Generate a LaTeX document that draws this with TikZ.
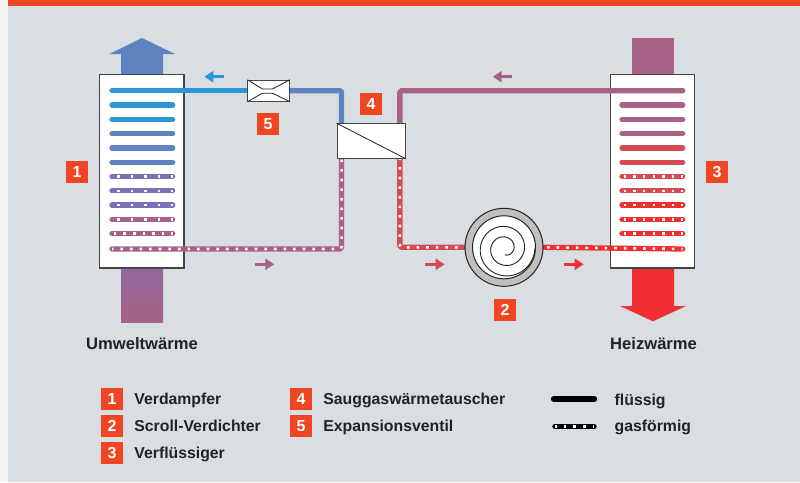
\documentclass[tikz,border=0pt]{standalone}
\usepackage{fontspec}
\setmainfont{Liberation Sans}
\usetikzlibrary{arrows.meta,backgrounds}

\definecolor{bgcol}{HTML}{D9DEE2}
\definecolor{barcol}{HTML}{F04523}
\definecolor{cold}{HTML}{2D96D4}
\definecolor{coolblue}{HTML}{5F82C0}
\definecolor{violet}{HTML}{7A70B5}
\definecolor{mauve}{HTML}{A76285}
\definecolor{dullred}{HTML}{D64A55}
\definecolor{hot}{HTML}{F03030}
\definecolor{txt}{HTML}{222222}
\definecolor{edge}{HTML}{444444}

\tikzset{
  pipe/.style={line width=5.3pt,line cap=round,line join=round,rounded corners=2pt,draw=#1},
  gas/.style 2 args={pipe=#1,postaction={draw=white,line width=2.6pt,line cap=butt,dash pattern=on 2.6pt off {#2pt-2.6pt},dash phase=1.3pt}},
  badge/.style={fill=barcol,text=white,font=\bfseries\fontsize{16}{16}\selectfont,minimum width=22pt,minimum height=22pt,inner sep=0pt},
  label/.style={anchor=base west,text=txt,inner sep=0pt,font=\bfseries\fontsize{15.8}{16}\selectfont},
  title/.style={label,font=\bfseries\fontsize{16.6}{16}\selectfont},
  exchanger/.style={draw=edge,line width=1.2pt,fill=white,inner sep=0pt},
  flowarrow/.style={draw=#1,line width=3.5pt,-{Triangle[length=9pt,width=11pt]}},
}

\begin{document}
\begin{tikzpicture}[x=1pt,y=-1pt]

% parameters
\def\gap{9.6}       % dot spacing on gas lines
\def\rowA{90.7}     % first row of the coils
\def\rowH{14.3}     % distance of the coil rows

\useasboundingbox (0,0) rectangle (800,482);

% expansion valve, suction gas exchanger, scroll
\node[exchanger,line width=1pt,minimum width=41.5pt,minimum height=21pt] (valve) at (268.7,90.7) {};
\draw[txt,line width=.8pt] (valve.north west) -- +(15,9.3) -- +(25,9.3) -- (valve.north east);
\draw[txt,line width=.8pt] (valve.south west) -- +(15,-8.5) -- +(25,-8.5) -- (valve.south east);
\node[exchanger,line width=1pt,minimum width=68.3pt,minimum height=34.6pt] (hx) at (371.2,141) {};
\draw[txt,line width=.8pt] (hx.north west) -- (hx.south east);
\node[circle,draw=txt,line width=1pt,fill=black!25,minimum size=78pt,inner sep=0pt] (scroll) at (504,247.3) {};
\node[circle,draw=txt,line width=1pt,fill=white,minimum size=63pt,inner sep=0pt] (rotor) at (scroll) {};
\draw[txt,line width=.9pt,smooth] plot[variable=\t,domain=-90:720,samples=90]
  ({505+(9+21*\t/720)*cos(\t)},{248.5-(9+21*\t/720)*sin(\t)});

\begin{scope}[on background layer]
% page
\fill[white!96!black] (0,0) rectangle (800,482);
\fill[bgcol] (8,0) rectangle (800,482);
\fill[barcol] (8,0) rectangle (800,6);

% air and heat streams
\fill[coolblue] (121,75) -- (121,54) -- (109.3,54) -- (142,38) -- (175,54) -- (163,54) -- (163,75) -- cycle;
\shade[top color=violet!50!mauve,bottom color=mauve] (121,268) rectangle (163,322.7);
\fill[mauve] (632,38) rectangle (674,75);
\fill[hot] (632,268) -- (632,306) -- (620,306) -- (653,321.3) -- (686,306) -- (674,306) -- (674,268) -- cycle;

% evaporator and condenser
\node[exchanger,minimum width=84.5pt,minimum height=193.5pt] (verd) at (141.8,171.3) {};
\node[exchanger,minimum width=84.5pt,minimum height=193.5pt] (verf) at (652.4,171.3) {};

% coil rows
\foreach \n/\c in {1/cold,2/cold,3/coolblue,4/coolblue,5/coolblue}{
  \draw[pipe=\c] (112,{\rowA+\n*\rowH}) -- (172.7,{\rowA+\n*\rowH});
}
\foreach \n/\c in {1/mauve,2/mauve,3/mauve,4/dullred,5/dullred}{
  \draw[pipe=\c] (622,{\rowA+\n*\rowH}) -- (682.7,{\rowA+\n*\rowH});
}
\foreach \n/\c/\g in {6/violet/13.6,7/violet/13.6,8/violet/13.6,9/mauve/13.6,10/mauve/9.6}{
  \draw[gas={\c}{\g}] (172.7,{\rowA+\n*\rowH}) -- (112,{\rowA+\n*\rowH});
}
\foreach \n/\c in {6/dullred,7/dullred,8/hot,9/hot,10/hot}{
  \draw[gas={\c}{9.63}] (682.7,{\rowA+\n*\rowH}) -- (622,{\rowA+\n*\rowH});
}

% pipe ends inside the coils
\coordinate (coldend) at (112,\rowA);
\coordinate (warmend) at (682.7,\rowA);
\coordinate (gasin) at (112,249);
\coordinate (gasout) at (682.7,249);

% pipes
\draw[pipe=cold] (coldend) -- (valve.west);
\draw[pipe=coolblue] (valve.east) -| ([xshift=5pt]hx.north west);
\draw[pipe=mauve] ([xshift=-6pt]hx.north east) |- (warmend);
\draw[gas={mauve}{\gap}] (gasin) -| ([xshift=5pt]hx.south west);
\draw[gas={dullred}{\gap}] ([xshift=-6pt]hx.south east) |- (scroll.west);
\draw[gas={hot}{\gap}] (gasout) -- (scroll.east);
\end{scope}

% flow direction
\foreach \xa/\xb/\y/\c in {224/204.3/76.7/cold,255/274.3/264.3/mauve,425.3/444.7/264.3/dullred,564/583.7/264.3/hot,511.7/492.7/76.7/mauve}{
  \draw[flowarrow=\c] (\xa,\y) -- (\xb,\y);
}

% numbers in the picture
\node[badge] (n1) at (77,172) {1};
\node[badge] (n2) at (505,310) {2};
\node[badge] (n3) at (717,172) {3};
\node[badge] (n4) at (371,104) {4};
\node[badge] (n5) at (268,124) {5};

% titles
\node[title] (umwelt) at (86,349) {Umweltwärme};
\node[title] (heiz) at (610,349) {Heizwärme};

% legend
\foreach \n/\x/\y/\t in {1/112/399/Verdampfer,2/112/426/Scroll-Verdichter,3/112/452.7/Verflüssiger,4/301/399/Sauggaswärmetauscher,5/301/426/Expansionsventil}{
  \node[badge] (key\n) at (\x,\y) {\n};
  \node[label] (keytext\n) at ([xshift=11pt,yshift=-5.5pt]key\n.east) {\t};
}
\coordinate (liqa) at (553.5,399);
\coordinate (liqb) at (594.5,399);
\coordinate (gasa) at (594,426.7);
\coordinate (gasb) at (555,426.7);
\draw[pipe=black] (liqa) -- (liqb);
\draw[gas={black}{9.7}] (gasa) -- (gasb);
\node[label] (liq) at (614.5,405) {flüssig};
\node[label] (gasf) at (614.5,431.7) {gasförmig};

\end{tikzpicture}
\end{document}
